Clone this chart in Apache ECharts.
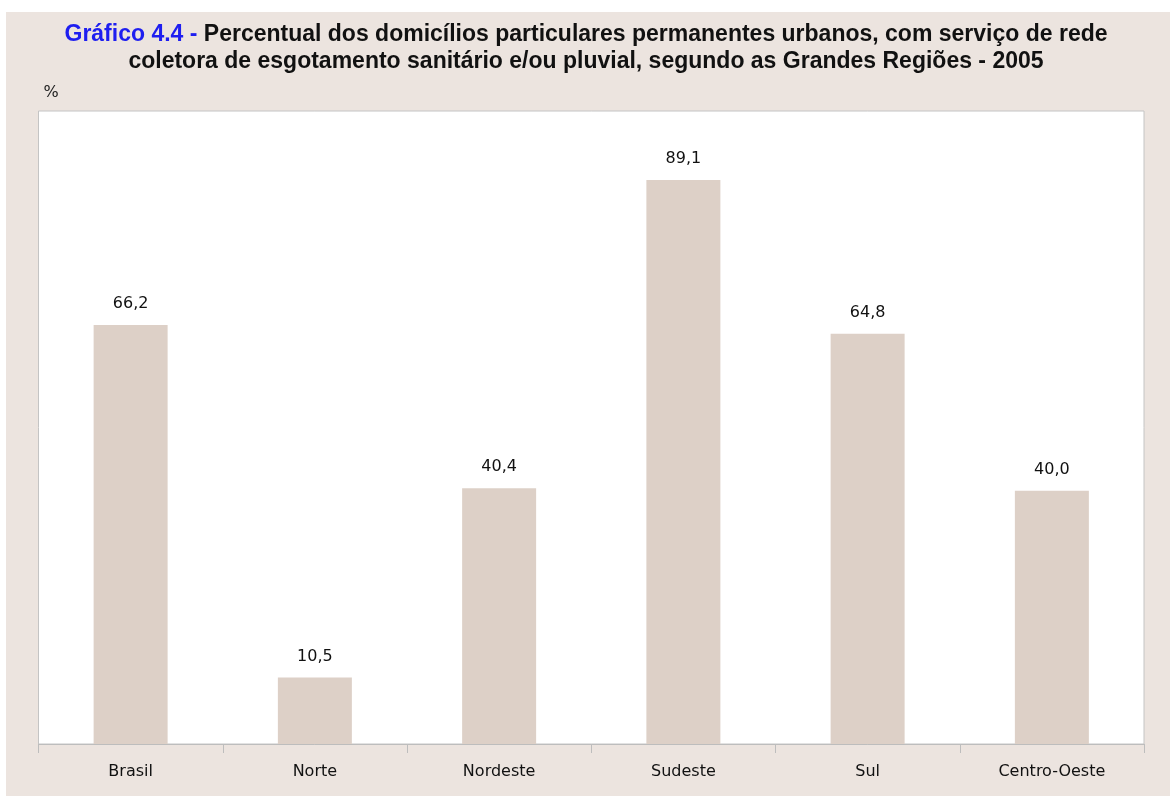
<!DOCTYPE html>
<html>
<head>
<meta charset="utf-8">
<script src="https://cdn.jsdelivr.net/npm/echarts@6/dist/echarts.min.js"></script>
<style>
html,body{margin:0;padding:0;background:#ffffff;}
#chart{width:1170px;height:796px;}
</style>
</head>
<body>
<div id="chart"></div>
<script>
var categories = ['Brasil', 'Norte', 'Nordeste', 'Sudeste', 'Sul', 'Centro-Oeste'];
var values = [66.2, 10.5, 40.4, 89.1, 64.8, 40.0];
var titleLine1Prefix = 'Gráfico 4.4 - ';
var titleLine1 = 'Percentual dos domicílios particulares permanentes urbanos, com serviço de rede';
var titleLine2 = 'coletora de esgotamento sanitário e/ou pluvial, segundo as Grandes Regiões - 2005';
var unitLabel = '%';

var chart = echarts.init(document.getElementById('chart'), null, {renderer: 'canvas'});
var font = '"Liberation Sans", Arial, sans-serif';
var labelFont = '"DejaVu Sans", sans-serif';
chart.setOption({
  backgroundColor: 'transparent',
  animation: false,
  graphic: [
    {type: 'rect', z: -10, silent: true, shape: {x: 6, y: 12, width: 1164, height: 784}, style: {fill: '#ECE4DF'}},
    {type: 'rect', z: -5, silent: true, shape: {x: 38.5, y: 111, width: 1105.5, height: 633}, style: {fill: '#ffffff', stroke: '#C4C4C4', lineWidth: 1}}
  ],
  title: {
    text: '{b|' + titleLine1Prefix + '}{a|' + titleLine1 + '}\n{a|' + titleLine2 + '}',
    left: 581, top: 16, textAlign: 'center',
    textStyle: {
      fontFamily: font,
      rich: {
        a: {fontFamily: font, fontSize: 23, fontWeight: 'bold', color: '#111111', lineHeight: 27},
        b: {fontFamily: font, fontSize: 23, fontWeight: 'bold', color: '#1E1EF0', lineHeight: 27}
      }
    }
  },
  grid: {left: 38.5, top: 111, right: 26, bottom: 52, containLabel: false},
  xAxis: {
    type: 'category',
    data: categories,
    axisLine: {show: true, lineStyle: {color: '#BDBDBD', width: 1}},
    axisTick: {show: true, length: 9, lineStyle: {color: '#BDBDBD'}},
    axisLabel: {color: '#111111', fontSize: 16, fontFamily: labelFont, margin: 20}
  },
  yAxis: {
    type: 'value', min: 0, max: 100,
    name: unitLabel, nameLocation: 'end', nameGap: 10,
    nameTextStyle: {color: '#222222', fontSize: 16, fontFamily: labelFont, align: 'left', padding: [0, 0, 0, 5]},
    axisLine: {show: false}, axisTick: {show: false}, axisLabel: {show: false}, splitLine: {show: false}
  },
  series: [{
    type: 'bar',
    data: values,
    barWidth: 74,
    itemStyle: {color: '#DDD0C7'},
    label: {
      show: true, position: 'top', distance: 13,
      color: '#111111', fontSize: 16, fontFamily: labelFont,
      formatter: function (p) { return p.value.toFixed(1).replace('.', ','); }
    }
  }]
});
</script>
</body>
</html>
